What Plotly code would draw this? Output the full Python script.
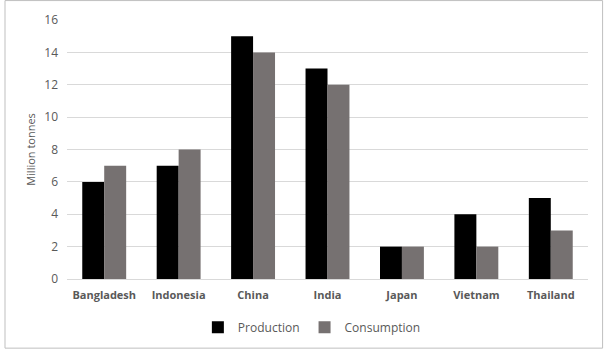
import plotly.graph_objects as go

countries = ["Bangladesh", "Indonesia", "China", "India", "Japan", "Vietnam", "Thailand"]
production = [6, 7, 15, 13, 2, 4, 5]
consumption = [7, 8, 14, 12, 2, 2, 3]
y_ticks = [0, 2, 4, 6, 8, 10, 12, 14, 16]

fig = go.Figure()
fig.add_trace(go.Bar(x=countries, y=production, name="Production",
                     marker=dict(color="#000000", line=dict(width=0))))
fig.add_trace(go.Bar(x=countries, y=consumption, name="Consumption",
                     marker=dict(color="#767171", line=dict(width=0))))

fig.update_layout(
    width=607, height=354,
    margin=dict(l=67, r=19, t=20, b=75),
    paper_bgcolor="white", plot_bgcolor="white",
    barmode="group", bargap=0.41, bargroupgap=0,
    font=dict(family="Open Sans, Liberation Sans, sans-serif", size=11, color="#595959"),
    legend=dict(orientation="h", x=0.47, xanchor="center", y=-0.13, yanchor="top",
                font=dict(size=12, color="#595959"), itemwidth=30, traceorder="normal"),
    showlegend=True,
)
fig.update_xaxes(showline=True, linecolor="#d9d9d9", linewidth=1, ticks="", ticklabelstandoff=6,
                 tickfont=dict(size=11, color="#595959", family="Open Sans, sans-serif", weight="bold"))
fig.update_yaxes(range=[0, 16], tickvals=y_ticks, showgrid=True, gridcolor="#d9d9d9",
                 zeroline=False, ticks="", ticklabelstandoff=8,
                 tickfont=dict(size=12, color="#595959"),
                 title=dict(text="Million tonnes", font=dict(size=11, color="#595959"), standoff=6))
fig.add_shape(type="rect", xref="paper", yref="paper", x0=-0.119, x1=1.028, y0=-0.267, y1=1.075,
              line=dict(color="#bfbfbf", width=1), fillcolor="rgba(0,0,0,0)")
fig.write_html("out.html")
